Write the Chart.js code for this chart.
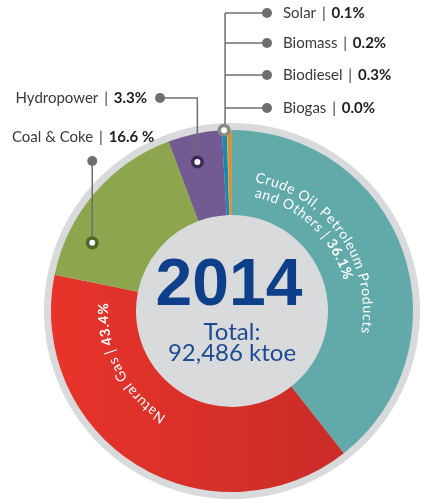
<!DOCTYPE html>
<html>
<head>
<meta charset="utf-8">
<script src="https://cdn.jsdelivr.net/npm/chart.js@4.4.1/dist/chart.umd.min.js"></script>
<style>
  html, body { margin: 0; background: #fff; }
  canvas { display: block; }
</style>
</head>
<body>
<canvas id="energyChart" width="425" height="503"></canvas>
<script>
// ===== Data =====
const categories = ['Crude Oil, Petroleum Products and Others', 'Natural Gas', 'Coal & Coke', 'Hydropower', 'Biodiesel', 'Solar', 'Biomass', 'Biogas']
// percentages as printed on the labels
const pctLabels = ['36.1%', '43.4%', '16.6 %', '3.3%', '0.3%', '0.1%', '0.2%', '0.0%']
// arc sizes as actually drawn in the graphic (it does not follow its own labels exactly)
const arcShares = [39.4, 38.8, 16.1, 4.8, 0.45, 0.05, 0.35, 0.05]
const sliceColors = ['#62a9aa', '#e3322b', '#8da64e', '#735a92', '#1689b0', '#f2c230', '#e58a2d', '#7a9a45']
const centerYear = '2014'
const centerTotal = ['Total:', '92,486 ktoe']

const DEG = Math.PI / 180
const GREY = '#6d6e71'
const TEXT = '#3a3a3c'
const BOLD = '#1f1d1e'

function arcText(ctx, cx, cy, r, startDeg, runs, spacing) {
  // text follows the circle clockwise, letter tops facing out
  let a = startDeg * DEG
  ctx.textAlign = 'center'
  ctx.textBaseline = 'alphabetic'
  runs.forEach(run => {
    ctx.font = run.font
    for (const ch of run.text) {
      const w = ctx.measureText(ch).width
      const mid = a + (w / 2) / r
      ctx.save()
      ctx.translate(cx + r * Math.sin(mid), cy - r * Math.cos(mid))
      ctx.rotate(mid)
      ctx.fillText(ch, 0, 0)
      ctx.restore()
      a += (w + spacing) / r
    }
  })
}

function runWidth(ctx, run) {
  ctx.font = run.font
  return ctx.measureText(run.text).width + 2 * (run.pad || 0)
}

function drawRuns(ctx, x, y, runs, align) {
  let left = align === 'right' ? x - runs.reduce((s, r) => s + runWidth(ctx, r), 0) : x
  ctx.textAlign = 'left'
  ctx.textBaseline = 'middle'
  runs.forEach(run => {
    const w = runWidth(ctx, run)
    ctx.fillStyle = run.color
    ctx.fillText(run.text, left + (run.pad || 0), y)
    left += w
  })
}

function labelRuns(i, name) {
  return [
    { text: name || categories[i], font: '15px Lato', color: TEXT },
    { text: ' | ', font: '15px Lato', color: TEXT, pad: 2 },
    { text: pctLabels[i], font: 'bold 15px Lato', color: BOLD }
  ]
}

function dot(ctx, x, y, r, color) {
  ctx.beginPath()
  ctx.arc(x, y, r, 0, Math.PI * 2)
  ctx.fillStyle = color
  ctx.fill()
}

function ringMarker(ctx, x, y, color) {
  dot(ctx, x, y, 6.5, color)
  dot(ctx, x, y, 3, '#ffffff')
}

// point on an arc element: fraction along the angle, fraction across the ring
function arcPoint(el, t, u) {
  const a = el.startAngle + (el.endAngle - el.startAngle) * t
  const r = el.innerRadius + (el.outerRadius - el.innerRadius) * u
  return { x: el.x + r * Math.cos(a), y: el.y + r * Math.sin(a) }
}

function line(ctx, pts) {
  ctx.beginPath()
  ctx.moveTo(pts[0][0], pts[0][1])
  pts.slice(1).forEach(p => ctx.lineTo(p[0], p[1]))
  ctx.strokeStyle = GREY
  ctx.lineWidth = 1.5
  ctx.stroke()
}

const decorPlugin = {
  id: 'decor',
  beforeDatasetsDraw(chart) {
    const el = chart.getDatasetMeta(0).data[0]
    const ctx = chart.ctx
    // grey disc behind the ring: shows as outer rim and as centre
    dot(ctx, el.x, el.y, el.outerRadius + 7, '#d9dadc')
  },
  afterDatasetsDraw(chart) {
    const ctx = chart.ctx
    const arcs = chart.getDatasetMeta(0).data
    const cx = arcs[0].x, cy = arcs[0].y

    // centre text
    ctx.textAlign = 'center'
    ctx.textBaseline = 'alphabetic'
    ctx.fillStyle = '#0d3f8b'
    ctx.font = 'bold 66px "Liberation Sans", Arial, sans-serif'
    ctx.fillText(centerYear, cx - 3, cy - 6)
    ctx.fillStyle = '#1d4a93'
    ctx.font = '24px Lato'
    ctx.fillText(centerTotal[0], cx, cy + 29)
    ctx.fillText(centerTotal[1], cx, cy + 50)

    // curved labels inside the ring
    ctx.fillStyle = '#ffffff'
    arcText(ctx, cx, cy, 131, 10, [{ text: 'Crude Oil, Petroleum Products', font: '14px Lato' }], 0.6)
    arcText(ctx, cx, cy, 116, 11, [
      { text: 'and Others | ', font: '14px Lato' },
      { text: pctLabels[0], font: 'bold 14px Lato' }
    ], 0.6)
    arcText(ctx, cx, cy, 124, 212, [
      { text: categories[1] + ' | ', font: '14px Lato' },
      { text: pctLabels[1], font: 'bold 14px Lato' }
    ], 0.6)

    // coal & coke callout
    const pc = arcPoint(arcs[2], 0.25, 0.7)
    line(ctx, [[pc.x, pc.y], [pc.x, 161]])
    dot(ctx, pc.x, 161, 5, GREY)
    ringMarker(ctx, pc.x, pc.y, '#4e6427')
    drawRuns(ctx, 12, 137, labelRuns(2), 'left')

    // hydropower callout
    const ph = arcPoint(arcs[3], 0.43, 0.67)
    line(ctx, [[160, 98], [ph.x, 98], [ph.x, ph.y]])
    dot(ctx, 160, 98, 5, GREY)
    ringMarker(ctx, ph.x, ph.y, '#3c2b57')
    drawRuns(ctx, 147, 98, labelRuns(3), 'right')

    // small sources: one stem with four branches
    const ps = arcPoint(arcs[4], 0.45, 1)
    const stemX = ps.x + 1
    const rows = [[5, 13], [6, 43], [4, 75], [7, 108]]
    line(ctx, [[stemX, rows[0][1]], [stemX, ps.y]])
    rows.forEach(([i, y]) => {
      line(ctx, [[stemX, y], [267, y]])
      dot(ctx, 267, y, 5, GREY)
      drawRuns(ctx, 283, y, labelRuns(i), 'left')
    })
    ringMarker(ctx, ps.x, ps.y, '#88898b')
  }
}

new Chart(document.getElementById('energyChart'), {
  type: 'doughnut',
  data: {
    labels: categories,
    datasets: [{
      data: arcShares,
      backgroundColor: c => {
        if (c.dataIndex !== 1 || !c.chart.chartArea) return sliceColors[c.dataIndex]
        const a = c.chart.chartArea
        const g = c.chart.ctx.createLinearGradient(a.left, 0, a.right, 0)
        g.addColorStop(0, '#e8342b')
        g.addColorStop(1, '#c22a27')
        return g
      },
      borderWidth: 0
    }]
  },
  options: {
    responsive: false,
    animation: false,
    devicePixelRatio: 1,
    cutout: 96,
    layout: { padding: { left: 51, right: 12, top: 130, bottom: 11 } },
    plugins: { legend: { display: false }, tooltip: { enabled: false } }
  },
  plugins: [decorPlugin]
})
</script>
</body>
</html>
